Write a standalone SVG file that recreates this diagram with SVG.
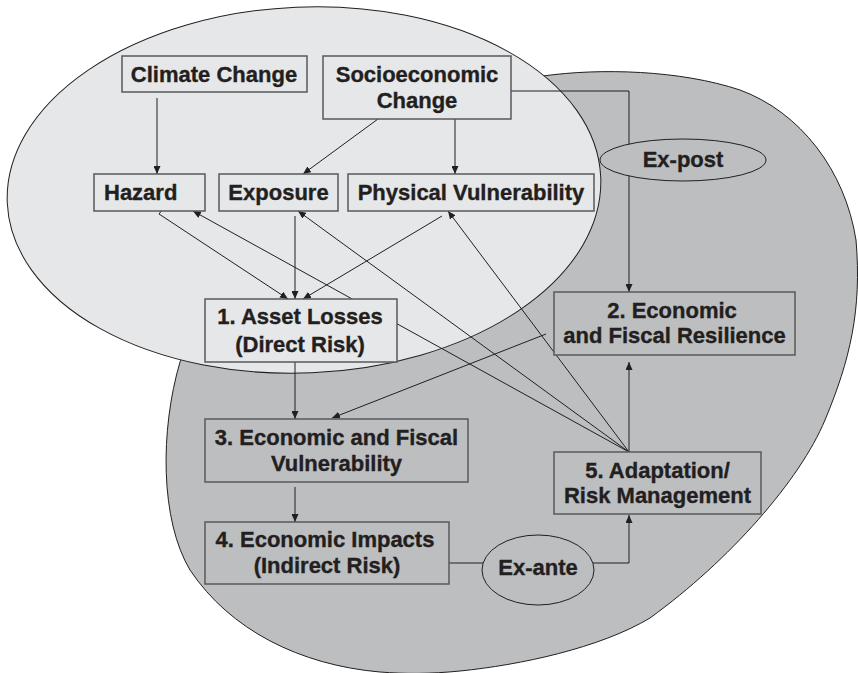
<svg xmlns="http://www.w3.org/2000/svg" width="858" height="673" viewBox="0 0 858 673">
<defs>
<marker id="ah" markerUnits="userSpaceOnUse" markerWidth="9" markerHeight="7" refX="8" refY="3.5" orient="auto">
<path d="M0,0 L8,3.5 L0,7 z" fill="#231f20"/>
</marker>
<style>
.bg{stroke:#231f20;stroke-width:1}
.box{stroke:#58595b;stroke-width:1.5}
.light{fill:#e6e7e8}
.dark{fill:#bcbec0}
.t{font-family:"Liberation Sans",Arial,Helvetica,sans-serif;font-weight:bold;font-size:22px;fill:#231f20;stroke:#231f20;stroke-width:0.35;text-anchor:middle}
.c{fill:none;stroke:#231f20;stroke-width:1}
.a{marker-end:url(#ah)}
</style>
</defs>
<rect width="858" height="673" fill="#ffffff"/>
<g id="regions">
<path class="bg dark" d="M543,76 C600,68 680,70 740,90 C800,112 845,170 856,240 C862,310 850,360 825,420 C800,480 730,560 650,618 C600,648 520,665 460,671 C430,674 405,674 380,672 C300,665 230,630 190,570 C160,520 160,430 180,362 C230,250 400,90 543,76 Z"/>
<ellipse class="bg light" cx="304" cy="190" rx="297" ry="183" transform="rotate(-2.5 304 190)"/>
</g>
<g id="connectors">
<path class="c a" d="M157,98 L157,174"/>
<path class="c a" d="M378,119 L303,174"/>
<path class="c a" d="M455,119 L455,174"/>
<path class="c a" d="M511,91 L629,91 L629,292"/>
<path class="c a" d="M162,210 L159,214 L288,299"/>
<path class="c a" d="M295,216 L295,299"/>
<path class="c a" d="M442,216 L303,299"/>
<path class="c a" d="M629,452 L193,211"/>
<path class="c a" d="M629,452 L298,211"/>
<path class="c a" d="M629,452 L448,211"/>
<path class="c a" d="M629,452 L629,362"/>
<path class="c a" d="M546,334 L332,418"/>
<path class="c a" d="M295,362 L295,419"/>
<path class="c a" d="M295,487 L295,522"/>
<path class="c a" d="M449,563 L629,563 L629,515"/>
</g>
<g id="climate-change">
<rect class="box light" x="122" y="56" width="185" height="36"/>
<text class="t" x="214" y="82">Climate Change</text>
</g>
<g id="socioeconomic-change">
<rect class="box light" x="323" y="56" width="188" height="63"/>
<text class="t" x="417" y="82">Socioeconomic</text>
<text class="t" x="417" y="108">Change</text>
</g>
<g id="hazard">
<rect class="box light" x="94" y="174" width="111" height="37"/>
<text class="t" x="104" y="200" style="text-anchor:start">Hazard</text>
</g>
<g id="exposure">
<rect class="box light" x="219" y="174" width="119" height="37"/>
<text class="t" x="278.5" y="200">Exposure</text>
</g>
<g id="physical-vulnerability">
<rect class="box light" x="348" y="174" width="246" height="37"/>
<text class="t" x="471" y="200">Physical Vulnerability</text>
</g>
<g id="asset-losses">
<rect class="box light" x="205" y="299" width="192" height="63"/>
<text class="t" x="300" y="324">1. Asset Losses</text>
<text class="t" x="300" y="352">(Direct Risk)</text>
</g>
<g id="ex-post">
<ellipse class="bg dark" cx="683" cy="160" rx="83" ry="21"/>
<text class="t" x="683" y="167">Ex-post</text>
</g>
<g id="economic-fiscal-resilience">
<rect class="box dark" x="554" y="292" width="241" height="63"/>
<text class="t" x="672" y="318">2. Economic</text>
<text class="t" x="674.5" y="343">and Fiscal Resilience</text>
</g>
<g id="economic-fiscal-vulnerability">
<rect class="box dark" x="205" y="419" width="263" height="63"/>
<text class="t" x="336.5" y="445">3. Economic and Fiscal</text>
<text class="t" x="336.5" y="471">Vulnerability</text>
</g>
<g id="economic-impacts">
<rect class="box dark" x="205" y="522" width="244" height="62"/>
<text class="t" x="325" y="547">4. Economic Impacts</text>
<text class="t" x="327" y="573">(Indirect Risk)</text>
</g>
<g id="ex-ante">
<ellipse class="bg dark" cx="538" cy="570" rx="56" ry="35"/>
<text class="t" x="538" y="575">Ex-ante</text>
</g>
<g id="adaptation-risk-management">
<rect class="box dark" x="554" y="452" width="207" height="62"/>
<text class="t" x="657.5" y="478">5. Adaptation/</text>
<text class="t" x="657.5" y="503">Risk Management</text>
</g>
</svg>
